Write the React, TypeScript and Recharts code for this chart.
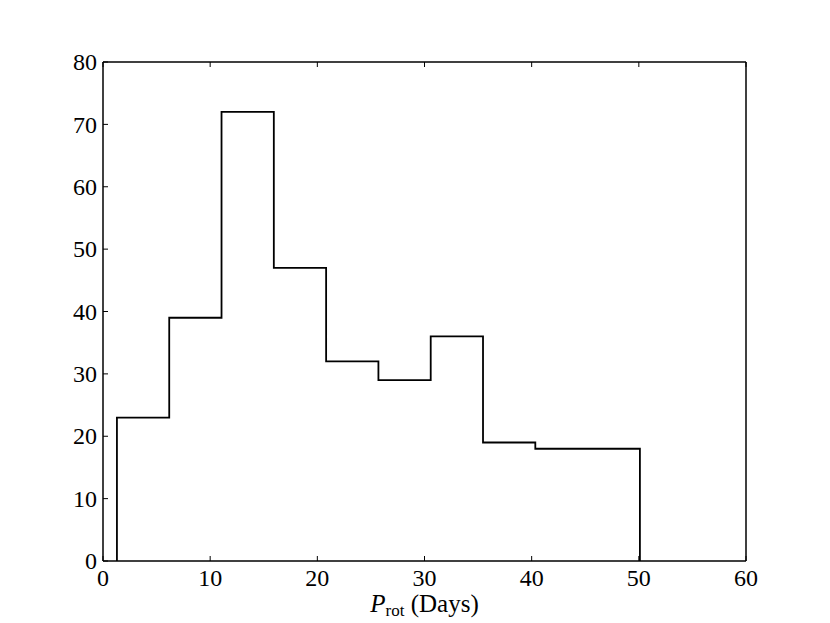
import { ComposedChart, Line, XAxis, YAxis } from 'recharts';

// histogram of rotation periods (days): bin edges and counts
const binEdges = [1.3, 6.18, 11.06, 15.94, 20.82, 25.7, 30.58, 35.46, 40.34, 45.22, 50.1];
const counts = [23, 39, 72, 47, 32, 29, 36, 19, 18, 18];
const xTicks = [0, 10, 20, 30, 40, 50, 60];
const yTicks = [0, 10, 20, 30, 40, 50, 60, 70, 80];

const FONT = '"Liberation Serif", "DejaVu Serif", serif';
const TICK_LEN = 5;

// step outline: rise at first edge, flat tops, drop at last edge
const steps = [
  { x: binEdges[0], y: 0 },
  ...counts.map((c, i) => ({ x: binEdges[i], y: c })),
  { x: binEdges[binEdges.length - 1], y: counts[counts.length - 1] },
  { x: binEdges[binEdges.length - 1], y: 0 },
];

const BottomTick = (props: any) => {
  const { x, y, payload } = props;
  return (
    <g>
      <line x1={x} x2={x} y1={y} y2={y - TICK_LEN} stroke="#000" strokeWidth={1} />
      <text x={x} y={y + 25} textAnchor="middle" fontFamily={FONT} fontSize={24} fill="#000">
        {payload.value}
      </text>
    </g>
  );
};

const TopTick = (props: any) => {
  const { x, y } = props;
  return <line x1={x} x2={x} y1={y} y2={y + TICK_LEN} stroke="#000" strokeWidth={1} />;
};

const LeftTick = (props: any) => {
  const { x, y, payload } = props;
  return (
    <g>
      <line x1={x} x2={x + TICK_LEN} y1={y} y2={y} stroke="#000" strokeWidth={1} />
      <text x={x - 6} y={y} dy="0.34em" textAnchor="end" fontFamily={FONT} fontSize={24} fill="#000">
        {payload.value}
      </text>
    </g>
  );
};

const RightTick = (props: any) => {
  const { x, y } = props;
  return <line x1={x} x2={x - TICK_LEN} y1={y} y2={y} stroke="#000" strokeWidth={1} />;
};

const XLabel = (props: any) => {
  const vb = props.viewBox || {};
  const cx = vb.x + vb.width / 2;
  return (
    <text x={cx} y={vb.y + 51} textAnchor="middle" fontFamily={FONT} fontSize={25} fill="#000">
      <tspan fontStyle="italic">P</tspan>
      <tspan fontSize={17} dy={4}>rot</tspan>
      <tspan dy={-4}> (Days)</tspan>
    </text>
  );
};

const axisLine = { stroke: '#000', strokeWidth: 1.5 };

export default function App() {
  return (
    <div style={{ position: 'absolute', left: 0, top: 0, background: '#fff' }}>
      <ComposedChart
        width={830}
        height={623}
        data={steps}
        margin={{ top: 42, right: 64, bottom: 12, left: 43 }}
      >
        <XAxis
          xAxisId="b"
          dataKey="x"
          type="number"
          domain={[0, 60]}
          ticks={xTicks}
          height={50}
          tickSize={0}
          tickMargin={0}
          tickLine={false}
          tick={<BottomTick />}
          axisLine={axisLine}
          label={{ content: <XLabel /> }}
        />
        <XAxis
          xAxisId="t"
          orientation="top"
          dataKey="x"
          type="number"
          domain={[0, 60]}
          ticks={xTicks}
          height={20}
          tickSize={0}
          tickMargin={0}
          tickLine={false}
          tick={<TopTick />}
          axisLine={axisLine}
        />
        <YAxis
          yAxisId="l"
          type="number"
          domain={[0, 80]}
          ticks={yTicks}
          width={60}
          tickSize={0}
          tickMargin={0}
          tickLine={false}
          tick={<LeftTick />}
          axisLine={axisLine}
        />
        <YAxis
          yAxisId="r"
          orientation="right"
          type="number"
          domain={[0, 80]}
          ticks={yTicks}
          width={20}
          tickSize={0}
          tickMargin={0}
          tickLine={false}
          tick={<RightTick />}
          axisLine={axisLine}
        />
        <Line
          xAxisId="b"
          yAxisId="l"
          type="stepAfter"
          dataKey="y"
          stroke="#000"
          strokeWidth={1.8}
          dot={false}
          isAnimationActive={false}
        />
      </ComposedChart>
    </div>
  );
}
